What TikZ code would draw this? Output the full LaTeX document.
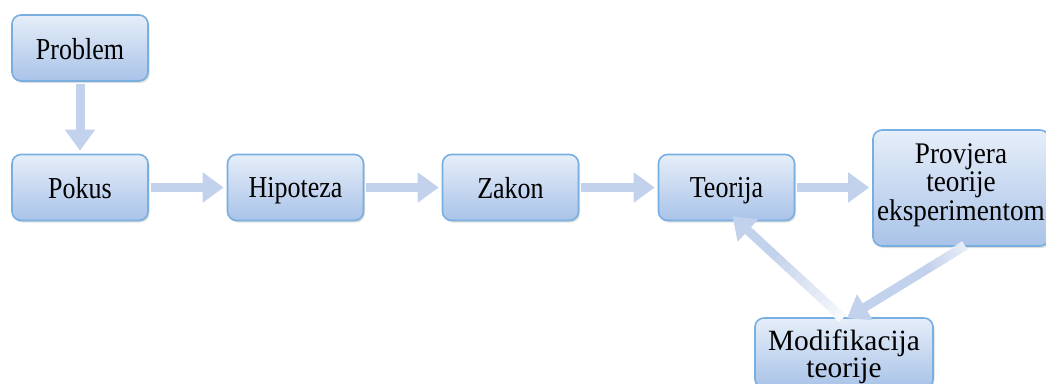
\documentclass[tikz,border=0pt]{standalone}
\usepackage{fontspec}
\setmainfont{Liberation Serif}
\usetikzlibrary{arrows.meta,shadows,calc}
\definecolor{boxline}{HTML}{78AEE0}
\definecolor{boxtop}{HTML}{E6EEF9}
\definecolor{boxbot}{HTML}{A9C3E8}
\definecolor{arrcol}{HTML}{C3D2EC}
% #1 font size, #2 line spacing, #3 vertical stretch, #4 downward shift, #5 text
\newcommand\vtxt[5]{\raisebox{-#4}[\height][\depth]{\scalebox{1}[#3]{\fontsize{#1}{#2}\selectfont\begin{tabular}{@{}c@{}}#5\end{tabular}}}}
\begin{document}
\begin{tikzpicture}[x=1pt,y=-1pt,
  box/.style={draw=boxline, line width=1.6pt, rounded corners=9pt,
    top color=boxtop, bottom color=boxbot, minimum width=136pt, minimum height=66pt,
    align=center, inner sep=1pt,
    drop shadow={shadow xshift=1.5pt, shadow yshift=-2pt, opacity=0.25}},
  flow/.style={draw=arrcol, line width=9pt, -{Triangle[width=29pt,length=21pt]}}
]
\useasboundingbox (0,0) rectangle (1046,383);
\node[box] (prob) at (80,48) {\vtxt{26}{25}{1.17}{5.5pt}{Problem}};
\node[box] (pok) at (80,187.5) {\vtxt{26}{25}{1.17}{4.5pt}{Pokus}};
\node[box] (hip) at (295.5,187.5) {\vtxt{26}{25}{1.17}{4.5pt}{Hipoteza}};
\node[box] (zak) at (510.5,187.5) {\vtxt{26}{25}{1.17}{4.5pt}{Zakon}};
\node[box] (teo) at (726.5,187.5) {\vtxt{26}{25}{1.17}{4pt}{Teorija}};
\node[box, minimum width=176pt, minimum height=116pt] (prov) at (961,188) {\vtxt{27.2}{24.1}{1.1}{-1.8pt}{Provjera\\teorije\\eksperimentom}};
\node[box, minimum width=178pt, minimum height=70pt] (mod) at (844,353) {\vtxt{29.4}{26}{1}{4.8pt}{Modifikacija\\teorije}};
\draw[flow, shorten <=2pt, shorten >=3pt] (prob.south) -- (pok.north);
\draw[flow, shorten <=2pt, shorten >=3pt] (pok.east) -- (hip.west);
\draw[flow, shorten <=2pt, shorten >=3pt] (hip.east) -- (zak.west);
\draw[flow, shorten <=2pt, shorten >=3pt] (zak.east) -- (teo.west);
\draw[flow, shorten <=2pt, shorten >=3pt] (teo.east) -- (teo.east -| prov.west);
\coordinate (pstart) at ([xshift=4pt,yshift=1pt]prov.south);
\coordinate (mend) at ([xshift=3pt,yshift=-1pt]mod.north);
\coordinate (mstart) at ([xshift=-1pt,yshift=-1pt]mod.north);
\coordinate (tend) at ([xshift=6pt,yshift=5pt]teo.south);
\draw[flow] (pstart) -- (mend);
\draw[flow] (mstart) -- (tend);
\foreach \i in {0,...,9}{
  \draw[white, line width=11pt, opacity={0.6*(1-\i/10)}]
    ($(pstart)!{\i*0.03}!(mend)$) -- ($(pstart)!{(\i+1)*0.03}!(mend)$);
  \draw[white, line width=11pt, opacity={0.85*(1-\i/10)}]
    ($(mstart)!{\i*0.06}!(tend)$) -- ($(mstart)!{(\i+1)*0.06}!(tend)$);
}
\end{tikzpicture}
\end{document}
